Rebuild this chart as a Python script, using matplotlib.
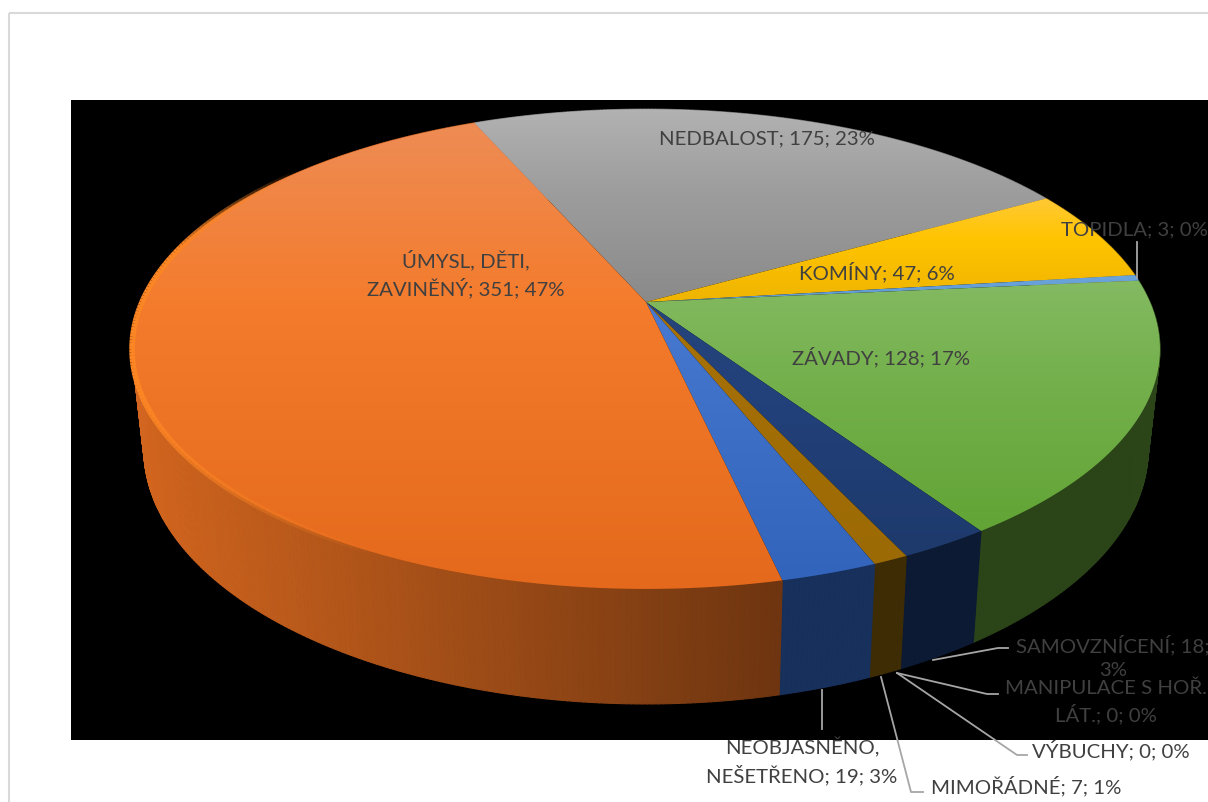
import matplotlib
matplotlib.use('Agg')
import matplotlib.pyplot as plt
import numpy as np
from matplotlib.collections import LineCollection, PolyCollection
from matplotlib.patches import Polygon, Rectangle

# clockwise order, starting at the grey slice
categories = ['NEDBALOST', 'KOMÍNY', 'TOPIDLA', 'ZÁVADY', 'SAMOVZNÍCENÍ', 'MANIPULACE S HOŘ. LÁT.',
              'VÝBUCHY', 'MIMOŘÁDNÉ', 'NEOBJASNĚNO, NEŠETŘENO', 'ÚMYSL, DĚTI, ZAVINĚNÝ']
counts = [175, 47, 3, 128, 18, 0, 0, 7, 19, 351]
percents = [23, 6, 0, 17, 3, 0, 0, 1, 3, 47]

top_light = ['#B2B2B2', '#FFC935', '#6CA5DC', '#84BA62', '#25457C', '#888888', '#888888', '#A87206', '#4A7AD2', '#EE8C55']
top_mid = ['#9E9E9E', '#FFC400', '#66A0D8', '#74B04C', '#22407A', '#888888', '#888888', '#A26E05', '#3E70C8', '#F47B2B']
top_dark = ['#8A8A8A', '#EFB400', '#5E9AD4', '#62A435', '#1E3A6C', '#888888', '#888888', '#9C6A04', '#3264BC', '#E4691C']
wall_colors = ['#555555', '#7A5C00', '#2E4F6E', '#2B4519', '#0C1A33', '#333333', '#333333', '#3E2C05', '#17305C', '#6E3510']

# label text split like the data labels, with the anchor used for each
label_lines = {
    'NEDBALOST': ('NEDBALOST; 175; 23%', 767, 139),
    'KOMÍNY': ('KOMÍNY; 47; 6%', 877, 272),
    'TOPIDLA': ('TOPIDLA; 3; 0%', 1134, 230),
    'ZÁVADY': ('ZÁVADY; 128; 17%', 881, 357),
    'SAMOVZNÍCENÍ': ('SAMOVZNÍCENÍ; 18;\n3%', 1113, 657),
    'MANIPULACE S HOŘ. LÁT.': ('MANIPULACE S HOŘ.\nLÁT.; 0; 0%', 1106, 702),
    'VÝBUCHY': ('VÝBUCHY; 0; 0%', 1111, 750),
    'MIMOŘÁDNÉ': ('MIMOŘÁDNÉ; 7; 1%', 1026, 786),
    'NEOBJASNĚNO, NEŠETŘENO': ('NEOBJASNĚNO,\nNEŠETŘENO; 19; 3%', 802, 761),
    'ÚMYSL, DĚTI, ZAVINĚNÝ': ('ÚMYSL, DĚTI,\nZAVINĚNÝ; 351; 47%', 466, 274),
}

leaders = [
    [(1137, 243), (1137, 279)],
    [(933, 661), (998, 649), (1008, 649)],
    [(897, 674), (987, 695), (998, 695)],
    [(897, 674), (1017, 756), (1027, 756)],
    [(881, 678), (911, 793), (923, 793)],
    [(822, 691), (822, 730)],
]

start_angle = -23.7
cx, cy = 646, 303
a, b, k = 504, 230.7, 0.196


def project(theta):
    # theta in degrees, clockwise from the back of the pie
    t = np.radians(theta)
    u, v = np.sin(t), -np.cos(t)
    w = 1 - k * v
    return cx + a * u / w, cy + b * v / w


def project_bottom(x, y):
    return cx + 0.977 * (x - cx), y + 100 + 15 * (y - 350) / 240


def hex_rgb(c):
    return np.array(matplotlib.colors.to_rgb(c))


fig = plt.figure(figsize=(12.08, 8.03), dpi=100)
ax = fig.add_axes([0, 0, 1, 1])
ax.axis('off')

ax.add_patch(Rectangle((8.5, 13.5), 1300, 900, fill=False, ec='#D9D9D9', lw=1.5, zorder=0))
ax.add_patch(Rectangle((71, 100.5), 1137, 640.5, fc='black', ec='none', zorder=1))

angles = start_angle + np.concatenate([[0], np.cumsum(counts)]) * 360.0 / sum(counts)

# side wall, shaded from the left
quads = []
quad_colors = []
for i in range(len(counts)):
    if counts[i] == 0:
        continue
    steps = np.arange(angles[i], angles[i + 1], 0.5)
    steps = np.append(steps, angles[i + 1])
    for t0, t1 in zip(steps[:-1], steps[1:]):
        x0, y0 = project(t0)
        x1, y1 = project(t1)
        xb0, yb0 = project_bottom(x0, y0)
        xb1, yb1 = project_bottom(x1, y1)
        quads.append([(x0, y0), (x1, y1), (xb1, yb1), (xb0, yb0)])
        mid = (x0 + x1) / 2
        shade = 1 + max(0, (780 - mid) / 640) * 0.9
        quad_colors.append(np.clip(hex_rgb(wall_colors[i]) * shade, 0, 1))
ax.add_collection(PolyCollection(quads, facecolors=quad_colors, edgecolors=quad_colors, linewidths=0.8, zorder=2))

# top faces with a vertical gradient
for i in range(len(counts)):
    if counts[i] == 0:
        continue
    th = np.linspace(angles[i], angles[i + 1], max(int(angles[i + 1] - angles[i]) * 3, 4))
    xs, ys = project(th)
    xs = np.concatenate([[cx], xs])
    ys = np.concatenate([[cy], ys])
    ramp = np.linspace(0, 1, 256)
    stops = np.array([hex_rgb(top_light[i]), hex_rgb(top_mid[i]), hex_rgb(top_dark[i])])
    img = np.stack([np.interp(ramp, [0, 0.4, 1], stops[:, c]) for c in range(3)], axis=1)[:, None, :]
    im = ax.imshow(img, extent=[xs.min(), xs.max(), ys.max(), ys.min()], aspect='auto', zorder=3, interpolation='bilinear')
    im.set_clip_path(Polygon(np.column_stack([xs, ys]), transform=ax.transData))

# brighter rim on the left of the orange slice, fading at both ends
rim = np.linspace(205, 310, 140)
rx, ry = project(rim)
pts = np.column_stack([rx, ry])
segs = np.stack([pts[:-1], pts[1:]], axis=1)
fade = np.clip(np.minimum(np.linspace(0, 1, len(segs)) * 2.5, np.linspace(1, 0, len(segs)) * 4), 0, 1)
rim_colors = [(0.99, 0.52, 0.14, f) for f in fade]
ax.add_collection(LineCollection(segs, colors=rim_colors, linewidths=4.0, zorder=4))

for pts in leaders:
    pts = np.array(pts)
    ax.plot(pts[:, 0], pts[:, 1], color='#A6A6A6', lw=1.3, zorder=5)

for name in categories:
    text, x, y = label_lines[name]
    ax.text(x, y, text, ha='center', va='center', color='#404040', fontsize=14.7,
            family=['Lato', 'DejaVu Sans'], linespacing=1.42, zorder=6)

ax.set_xlim(0, 1208)
ax.set_ylim(803, 0)
fig.savefig('out.png', dpi=100)
